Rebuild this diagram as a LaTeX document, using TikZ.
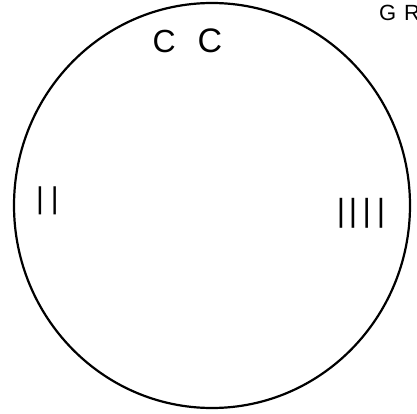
\documentclass[tikz,border=0pt]{standalone}
\usepackage{fontspec}
\setmainfont{Liberation Sans}
\usetikzlibrary{shapes.geometric}
\tikzset{
  hand/.style={inner sep=0pt, outer sep=0pt, anchor=base west, text=black},
  rim/.style={draw=black, line width=2.2pt}
}
\begin{document}
\begin{tikzpicture}[x=1pt,y=-1pt]
  \useasboundingbox (0,0) rectangle (417,414);
  \fill[white] (0,0) rectangle (417,414);
  \node[rim, ellipse, minimum width=396pt, minimum height=405pt, inner sep=0pt, outer sep=0pt] (circ) at (212,205.5) {};
  \node[hand, font=\fontsize{32}{32}\selectfont] (cc) at (152.5,53) {C\kern22pt{\fontsize{34}{34}\selectfont C}};
  \node[hand, font=\fontsize{30}{30}\selectfont] (two) at (36,208.7) {|\kern7.2pt|};
  \node[hand, font=\fontsize{32}{32}\selectfont] (four) at (336.8,221.3) {|\kern3.7pt|\kern5.4pt|\kern6pt|};
  \node[hand, font=\fontsize{22}{22}\selectfont] (gr) at (379,20.5) {G\kern8pt R};
\end{tikzpicture}
\end{document}
